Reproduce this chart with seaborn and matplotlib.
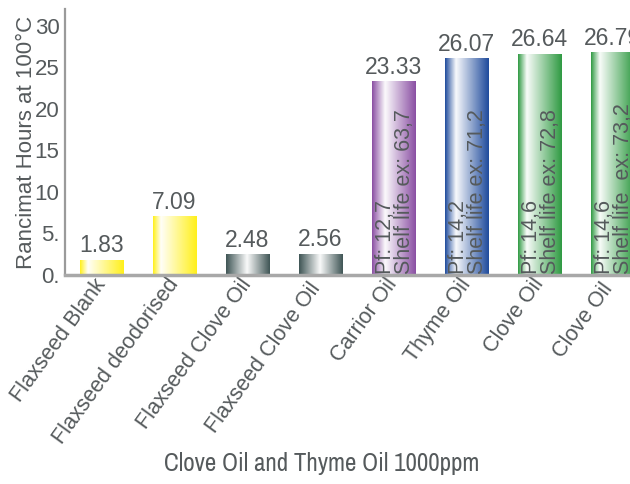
import numpy as np
import pandas as pd
import matplotlib
matplotlib.use("Agg")
import matplotlib.pyplot as plt
from matplotlib import font_manager
from matplotlib.colors import to_rgb
import seaborn as sns

# Rancimat results per sample
samples = ["Flaxseed Blank", "Flaxseed deodorised", "Flaxseed Clove Oil",
           "Flaxseed Clove Oil ", "Carrior Oil", "Thyme Oil", "Clove Oil", "Clove Oil "]
hours = [1.83, 7.09, 2.48, 2.56, 23.33, 26.07, 26.64, 26.79]
value_labels = ["1.83", "7.09", "2.48", "2.56", "23.33", "26.07", "26.64", "26.79"]
inner_notes = ["", "", "", "", "Pf: 12,7\nShelf life ex: 63,7", "Pf: 14,2\nShelf life ex: 71,2",
               "Pf: 14,6\nShelf life ex: 72,8", "Pf: 14,6\nShelf life  ex: 73,2"]
bar_colors = ["#fff01a", "#fff01a", "#3f5555", "#3f5555", "#8a4fa3", "#1f4b9c", "#2f9a42", "#2f9a42"]
highlight_pos = [0.18, 0.18, 0.48, 0.48, 0.3, 0.25, 0.2, 0.2]
yticks = [0, 5, 10, 15, 20, 25, 30]
ytick_labels = ["0.", "5.", "10", "15", "20", "25", "30"]

sns.set_theme(style="white")
plt.rcParams["font.family"] = ["Liberation Sans", "DejaVu Sans"]
text_gray = "#555a5c"

df = pd.DataFrame({"sample": samples, "hours": hours})

fig = plt.figure(figsize=(6.3, 4.84), dpi=100)
ax = fig.add_axes([65 / 630, 209 / 484, 584 / 630, 266 / 484])

sns.barplot(data=df, x="sample", y="hours", hue="sample", palette=bar_colors,
            width=0.59, legend=False, ax=ax, saturation=1)

# horizontal shading on each bar: colour -> white highlight -> colour
for patch, col, pos in zip(ax.patches, bar_colors, highlight_pos):
    x0, w, h = patch.get_x(), patch.get_width(), patch.get_height()
    base = np.array(to_rgb(col))
    t = np.linspace(0, 1, 200)
    mix = np.where(t < pos, t / pos, 1 - (t - pos) / (1 - pos))
    mix = np.clip(mix, 0, 1)[:, None] * 0.97
    grad = base * (1 - mix) + np.ones(3) * mix
    im = ax.imshow(grad[None, :, :], extent=[x0, x0 + w, 0, h], aspect="auto",
                   interpolation="bilinear", zorder=patch.get_zorder() + 0.1)
    im.set_clip_path(patch)

# value on top, notes written up the inside of the bar
for patch, lab, note in zip(ax.patches, value_labels, inner_notes):
    cx = patch.get_x() + patch.get_width() / 2
    ax.text(cx, patch.get_height() + 0.3, lab, ha="center", va="bottom",
            fontsize=16.5, color=text_gray, zorder=5)
    if note:
        ax.text(cx + 0.02, 0.15, note, rotation=90, ha="center", va="bottom",
                multialignment="left", linespacing=0.9, fontsize=15.5,
                color=text_gray, zorder=5, clip_on=False)

ax.set_xlim(-0.5, len(samples) - 0.5)
ax.set_ylim(0, 32)
ax.set_yticks(yticks)
ax.set_yticklabels(ytick_labels)
ax.tick_params(axis="y", length=0, pad=4, labelsize=16, labelcolor=text_gray)
ax.tick_params(axis="x", length=0, pad=4, labelsize=15.5, labelcolor=text_gray)
for lab in ax.get_xticklabels():
    lab.set_rotation(54)
    lab.set_ha("right")
    lab.set_va("center")
    lab.set_rotation_mode("anchor")

ax.set_ylabel("Rancimat Hours at 100°C", fontsize=16, color=text_gray)
ax.yaxis.set_label_coords(-0.048, 0.5)
narrow = [f.name for f in font_manager.fontManager.ttflist if "Narrow" in f.name]
ax.set_xlabel("Clove Oil and Thyme Oil 1000ppm", fontsize=18, color=text_gray,
              family=[narrow[0] if narrow else "Liberation Sans", "DejaVu Sans"])
ax.xaxis.set_label_coords((322 - 65) / 584, -(452 - 275) / 266)

for side in ["top", "right"]:
    ax.spines[side].set_visible(False)
ax.spines["left"].set_color("#9a9a9a")
ax.spines["left"].set_linewidth(1.6)
ax.spines["bottom"].set_color("#a8a8a8")
ax.spines["bottom"].set_linewidth(2.5)

fig.savefig("out.png", dpi=100)
